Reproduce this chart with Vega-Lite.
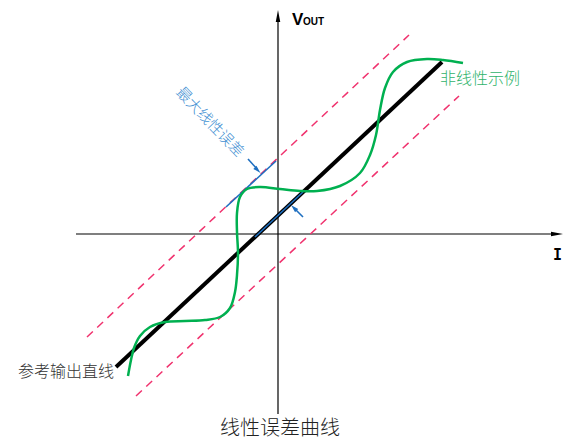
{
  "$schema": "https://vega.github.io/schema/vega-lite/v6.json",
  "width": 563,
  "height": 440,
  "autosize": {"type": "none"},
  "padding": 0,
  "background": "white",
  "config": {"view": {"stroke": null}},
  "datasets": {
    "axes": [
      {"x": -202, "y": 0, "x2": 275, "y2": 0},
      {"x": 0, "y": -180, "x2": 0, "y2": 212}
    ],
    "ref": [{"x": -162, "y": -133, "x2": 164, "y2": 172}],
    "bounds": [
      {"x": -191, "y": -103, "x2": 131, "y2": 199},
      {"x": -142, "y": -162, "x2": 181, "y2": 138}
    ],
    "blue": [
      {"x": -52, "y": 27, "x2": -2, "y2": 73},
      {"x": -23, "y": -3, "x2": 25, "y2": 42},
      {"x": -30, "y": 75, "x2": -21, "y2": 65},
      {"x": 25, "y": 17, "x2": 16, "y2": 26}
    ],
    "green": [
      {"o": 1, "x": -150, "y": -142},
      {"o": 2, "x": -147, "y": -126},
      {"o": 3, "x": -144, "y": -114},
      {"o": 4, "x": -138, "y": -102},
      {"o": 5, "x": -128, "y": -93},
      {"o": 6, "x": -113, "y": -88},
      {"o": 7, "x": -93, "y": -87},
      {"o": 8, "x": -73, "y": -86},
      {"o": 9, "x": -58, "y": -83},
      {"o": 10, "x": -48, "y": -74},
      {"o": 11, "x": -43, "y": -58},
      {"o": 12, "x": -41, "y": -41},
      {"o": 13, "x": -40, "y": -19},
      {"o": 14, "x": -41, "y": 2},
      {"o": 15, "x": -41, "y": 21},
      {"o": 16, "x": -38, "y": 37},
      {"o": 17, "x": -31, "y": 45},
      {"o": 18, "x": -18, "y": 47},
      {"o": 19, "x": 2, "y": 45},
      {"o": 20, "x": 22, "y": 43},
      {"o": 21, "x": 39, "y": 43},
      {"o": 22, "x": 62, "y": 48},
      {"o": 23, "x": 82, "y": 61},
      {"o": 24, "x": 92, "y": 79},
      {"o": 25, "x": 98, "y": 99},
      {"o": 26, "x": 102, "y": 124},
      {"o": 27, "x": 107, "y": 146},
      {"o": 28, "x": 115, "y": 162},
      {"o": 29, "x": 129, "y": 172},
      {"o": 30, "x": 149, "y": 175},
      {"o": 31, "x": 165, "y": 174},
      {"o": 32, "x": 185, "y": 171}
    ]
  },
  "encoding": {
    "x": {"field": "x", "type": "quantitative", "scale": {"domain": [-278, 285], "nice": false, "zero": false}, "axis": null},
    "y": {"field": "y", "type": "quantitative", "scale": {"domain": [-206, 234], "nice": false, "zero": false}, "axis": null}
  },
  "layer": [
    {
      "data": {"name": "axes"},
      "mark": {"type": "rule", "color": "black", "strokeWidth": 1.2},
      "encoding": {"x2": {"field": "x2"}, "y2": {"field": "y2"}}
    },
    {
      "data": {"values": [{"x": 0, "y": 218}]},
      "mark": {"type": "point", "shape": "M0,-1L0.38,1L-0.38,1Z", "size": 144, "filled": true, "color": "black", "opacity": 1},
      "encoding": {}
    },
    {
      "data": {"values": [{"x": 279, "y": 0}]},
      "mark": {"type": "point", "shape": "M1,0L-1,0.38L-1,-0.38Z", "size": 144, "filled": true, "color": "black", "opacity": 1},
      "encoding": {}
    },
    {
      "data": {"name": "bounds"},
      "mark": {"type": "rule", "color": "#f0326e", "strokeWidth": 1.5, "strokeDash": [8, 6]},
      "encoding": {"x2": {"field": "x2"}, "y2": {"field": "y2"}}
    },
    {
      "data": {"name": "ref"},
      "mark": {"type": "rule", "color": "black", "strokeWidth": 4},
      "encoding": {"x2": {"field": "x2"}, "y2": {"field": "y2"}}
    },
    {
      "data": {"name": "blue"},
      "mark": {"type": "rule", "color": "#1e6fc0", "strokeWidth": 1.6},
      "encoding": {"x2": {"field": "x2"}, "y2": {"field": "y2"}}
    },
    {
      "data": {"values": [{"x": -20.3, "y": 63.8}]},
      "mark": {"type": "point", "shape": "M0,-1L0.55,1L-0.55,1Z", "size": 64, "filled": true, "color": "#1e6fc0", "opacity": 1, "angle": 135},
      "encoding": {}
    },
    {
      "data": {"values": [{"x": 15.8, "y": 26.2}]},
      "mark": {"type": "point", "shape": "M0,-1L0.55,1L-0.55,1Z", "size": 64, "filled": true, "color": "#1e6fc0", "opacity": 1, "angle": -45},
      "encoding": {}
    },
    {
      "data": {"name": "green"},
      "mark": {"type": "line", "color": "#00b050", "strokeWidth": 2.5, "interpolate": "catmull-rom"},
      "encoding": {"order": {"field": "o", "type": "quantitative"}}
    },
    {
      "data": {"values": [{"x": -68, "y": 112, "t": "最大线性误差"}]},
      "mark": {"type": "text", "font": "Noto Sans CJK SC", "fontSize": 15, "fontWeight": 300, "color": "#3f8fd2", "angle": 46, "align": "center", "baseline": "middle"},
      "encoding": {"text": {"field": "t"}}
    },
    {
      "data": {"values": [{"x": 162, "y": 155, "t": "非线性示例"}]},
      "mark": {"type": "text", "font": "Noto Sans CJK SC", "fontSize": 16, "fontWeight": 300, "color": "#2fb36b", "align": "left", "baseline": "middle"},
      "encoding": {"text": {"field": "t"}}
    },
    {
      "data": {"values": [{"x": -164, "y": -138, "t": "参考输出直线"}]},
      "mark": {"type": "text", "font": "Noto Sans CJK SC", "fontSize": 16, "fontWeight": 300, "color": "#333333", "align": "right", "baseline": "middle"},
      "encoding": {"text": {"field": "t"}}
    },
    {
      "data": {"values": [{"x": 2, "y": -195, "t": "线性误差曲线"}]},
      "mark": {"type": "text", "font": "Noto Sans CJK SC", "fontSize": 20, "fontWeight": 300, "color": "#222222", "align": "center", "baseline": "middle"},
      "encoding": {"text": {"field": "t"}}
    },
    {
      "data": {"values": [{"x": 14, "y": 209, "t": "V"}]},
      "mark": {"type": "text", "font": "Liberation Sans", "fontSize": 17, "fontWeight": "bold", "color": "black", "align": "left", "baseline": "alphabetic"},
      "encoding": {"text": {"field": "t"}}
    },
    {
      "data": {"values": [{"x": 25, "y": 209, "t": "OUT"}]},
      "mark": {"type": "text", "font": "Liberation Sans", "fontSize": 10, "fontWeight": "bold", "color": "black", "align": "left", "baseline": "alphabetic"},
      "encoding": {"text": {"field": "t"}}
    },
    {
      "data": {"values": [{"x": 275, "y": -21, "t": "I"}]},
      "mark": {"type": "text", "font": "DejaVu Sans Mono", "fontSize": 15, "fontWeight": "bold", "color": "black", "align": "left", "baseline": "middle"},
      "encoding": {"text": {"field": "t"}}
    }
  ]
}
